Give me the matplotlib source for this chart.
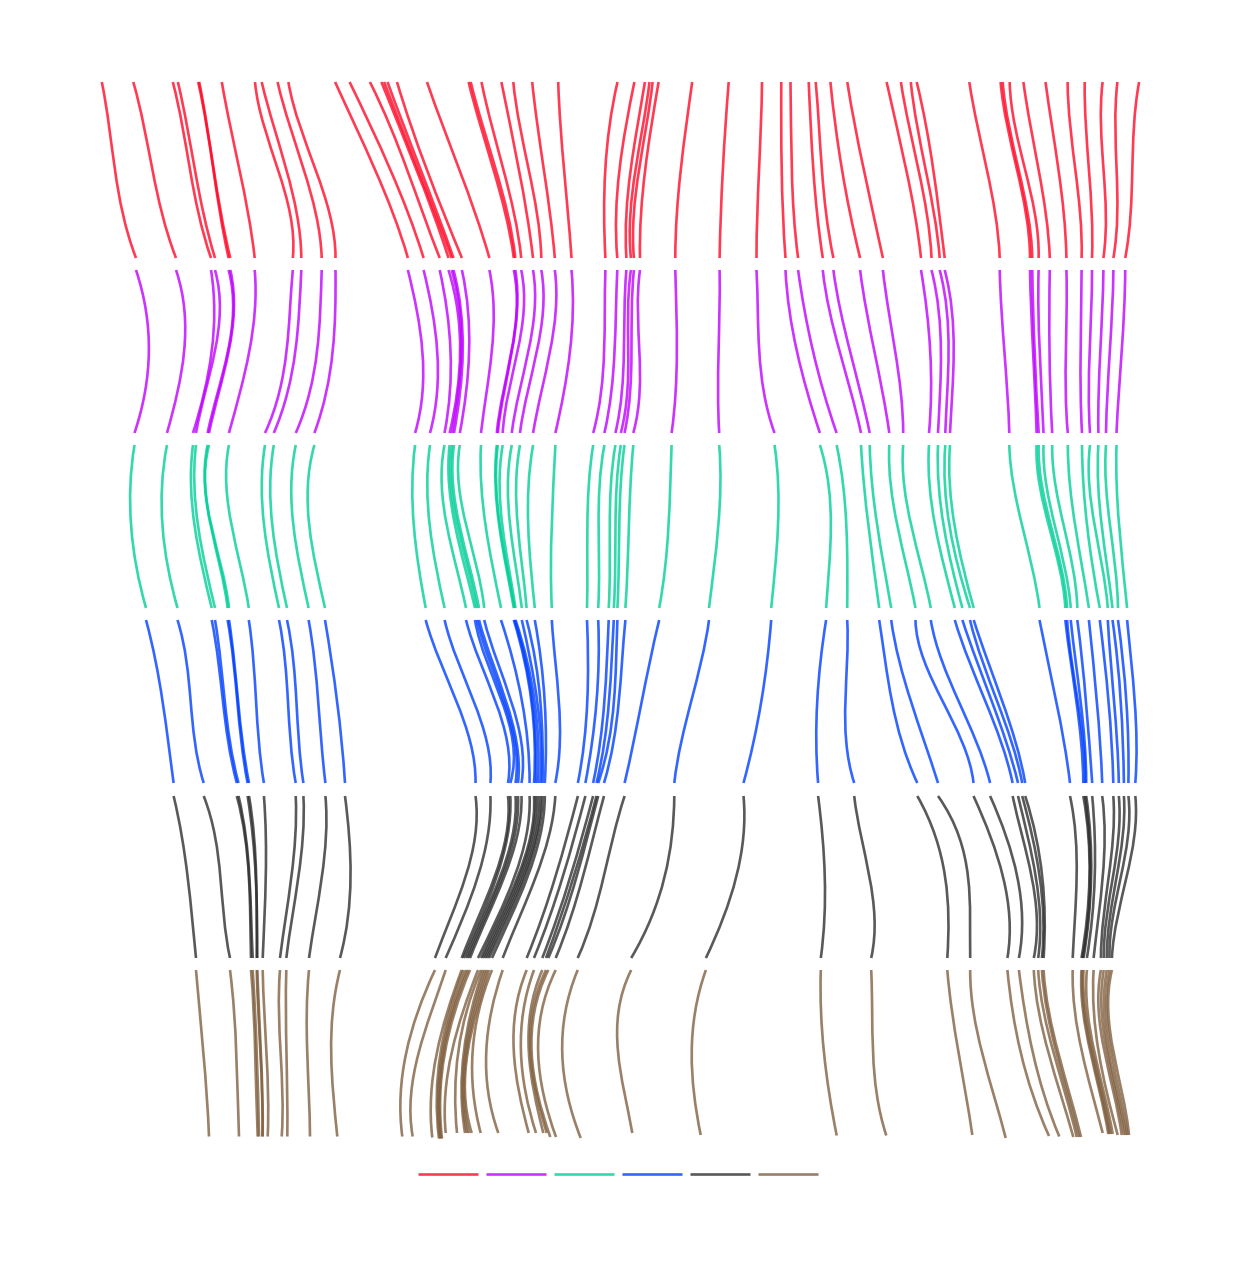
import matplotlib
matplotlib.use("Agg")
import matplotlib.pyplot as plt
from matplotlib.path import Path
from matplotlib.patches import PathPatch
from matplotlib.lines import Line2D

# x position of each of the 56 strands where it crosses a level
level_0 = [101.8,133.3,172.8,177.9,198.2,199.2,221.8,255,261.7,277.6,288.4,335.1,349.6,369.9,381.4,384.1,387.5,397,427,468.6,470.7,481.5,501.4,513.3,532.2,558.2,617.5,634.4,644.9,649.5,652.6,658.6,692.2,728.7,762,781.3,790.5,808.7,815.7,830.4,847.3,886.6,900.9,910.8,916.7,969.3,1000.6,1002.7,1009.7,1023.4,1045.5,1067.6,1084.7,1102.6,1117.4,1139.1]
level_1 = [136,176,211,215,228.6,230.3,254.7,292.8,301.3,321.7,335.5,407.9,423.6,439.7,448.5,451.7,453.5,461.9,489.4,513.8,515.3,521.2,533,541.3,554.8,571.5,605.4,617.3,626.4,630.9,633.9,640,675.3,719.6,756.5,785.5,798.1,822.8,833.4,860.1,882.9,921,931.5,939.7,944.7,999.7,1030,1032.3,1038.6,1049.8,1066.4,1081.6,1092,1103.4,1113.4,1125.2]
level_2 = [134.5,167,193,196,207.6,209,228.9,265,273.8,295.8,314.4,415.1,430,444.5,449.6,452,454,459.8,481,496.8,497.8,502.7,511.8,520,533.1,555.4,593.2,604.4,615.4,620.8,624.5,633.3,671.6,719.2,774.5,819.9,836.6,861,869.7,889.3,903.2,929,938,945.3,950,1009.3,1036.6,1038.7,1043.5,1052.2,1067.8,1082,1090,1098.4,1106,1116.5]
level_3 = [146,177.5,211.7,215,227.6,229,248.8,279,287,308.6,325,425.7,444.6,466,475,477,479,484.2,501,513.8,514.6,515.5,521.8,526.6,534.8,551.8,587,598.2,608.7,613.8,617.4,625.4,659.2,709,771.2,826.1,847.2,879.2,891.2,915.5,930.8,954.8,962.4,970,973.7,1039.5,1065.3,1067.1,1070.7,1077.3,1088.9,1099.8,1107.8,1112.5,1118,1127.1]
level_4 = [173.6,203.7,236.8,238.5,247.6,249,263.9,295.7,303.4,325.4,345,475.5,490.4,508,510.3,515.5,518,521.5,529.6,534,535.7,538,540.4,542.5,544.8,555.3,577.9,585.4,593.1,596.5,598.2,604,624.6,674.3,743.5,818.1,854.2,917.3,938,973.5,990.1,1012.6,1018,1022.2,1025.2,1070,1083.3,1085,1086.2,1092.2,1102.2,1113.3,1118.8,1123.9,1128.4,1135.3]
level_5 = [196,230,251,252.7,256.7,257.3,262.7,280,286.3,309,340,435,445.7,461.7,463.5,466,468,470,478,481,483,485,487,489,492,502.7,526.7,534,542.3,546,548.3,555.7,577.7,631.2,705.9,820.8,871.2,947.3,970.2,1007.4,1018.9,1033.8,1038.2,1041.9,1043.6,1072.7,1081.5,1082.5,1083.5,1086.9,1093.6,1100.9,1103.8,1106.8,1109.5,1111.9]
level_6 = [209,239,257.7,259,262.3,262.7,267.7,281.7,287.3,310,337.3,402.3,412.7,432.3,439,440,441,442,445.7,457,465,467,469,471.7,480.7,498.3,528.7,536,543.3,546.7,550.3,556,580.7,632.3,700.7,836.7,886.3,972.3,1005.7,1049,1059.3,1073.3,1076.7,1079,1081,1102.7,1108.3,1109.5,1110.7,1112.7,1117.7,1121.7,1124,1126,1127.5,1129]
level_6_y = [1136.5]*13 + [1137.5] + [1138.5]*4 + [1133]*12 + [1137]*2 + [1138,1133,1135,1135.5,1135.5,1135,1138,1136,1136.5] + [1137]*4 + [1133] + [1134]*4 + [1135]*6

# x at one third and two thirds down each band
band_0_a = [111,146.8,185,189.7,209,209.3,233.3,268.5,278,294.5,305,362.1,377.4,396,405,406.8,409.5,416.2,448.4,484.9,487.2,495.7,513.3,522.7,539.6,561.6,607.7,623.5,635,640.3,643.8,649.1,684.2,724.5,760.3,781.3,791.2,811.5,819.9,837.5,857.8,899.9,912.2,919.9,928.7,980.6,1010.4,1012.1,1018.1,1033.2,1054.2,1071.8,1086.8,1101.6,1115.6,1133.2]
band_0_b = [119.8,158.6,195.5,200.5,217.8,218.5,245.5,286.8,293.9,312.4,325.6,387.5,402.7,417.9,428,429.7,432,438.2,470.3,501.8,504.1,510.9,524.4,534.6,548.1,566.7,604.2,616.8,627.4,631.6,635.1,642.1,677.9,721.4,757.8,782.4,792.9,815.7,824.5,847.3,870.1,912.2,924.4,931.5,937.4,992.8,1023.4,1025.1,1032.1,1043.7,1062.3,1078.8,1091,1105.4,1117.4,1131.4]
band_1_a = [147.7,185.2,214,219,232.2,232.9,253.5,289,298.2,319.5,334.7,419.2,434.4,448.6,459.1,460.8,462.1,468.9,493.6,515.5,515.9,522.3,533.1,541.6,554.4,572.3,604.7,615.6,624.3,628,631.6,638.2,676.7,719.2,758.1,791.6,807.2,832.6,843.5,869,890.8,928.2,939.9,947.9,953,1002.4,1031.8,1033.6,1038.7,1049.3,1066.4,1080.9,1090.7,1101.6,1111.4,1123.4]
band_1_b = [147,180.2,207.2,208.6,221.4,222.4,243.4,282.3,290.7,312.7,328.9,423.2,437.8,450.6,458.7,459.7,461.4,467.5,488.5,506,506.7,511.5,522.3,530.7,544.3,566.2,602.5,612.7,622.9,628,630.9,640,676.3,718.1,761.8,803.6,819.9,847.2,857,879.9,899.2,931.1,940.6,947.9,953,1006.4,1034.4,1035.8,1040.9,1050,1065.6,1080.5,1088.9,1099.1,1108.2,1119.8]
band_2_a = [130.1,161.6,191.7,195.1,206.2,206.5,227.5,262,270.4,291.4,307.6,412.4,427.6,442.8,450.6,452.7,454.7,460.8,482.4,496.3,497,500,508.1,516.2,528,552.7,588,598.9,610.2,616,620,629.8,669.8,720,778.5,830,844.6,865.4,873.7,892.6,906.1,931,940,946,951,1016.2,1042.4,1044.6,1048.9,1058,1071.5,1084.5,1090.7,1099.1,1107.1,1117.3]
band_2_b = [134.2,165.6,199.4,202.8,217,218,237.6,268.1,276.2,297.5,313.4,416.8,433.7,453,461.4,464.1,466.2,473.3,490.2,503.7,504.4,506.4,513.8,520.6,529.7,551,587.3,598.9,609.8,615.3,618.9,628,666.5,715.6,776.3,830,847.2,871.9,881.7,903.5,918,941,949,955,960,1028.9,1056.1,1058,1061.6,1070,1079.8,1090.7,1099.8,1105.3,1113.6,1121.6]
band_3_a = [158.1,188.1,219.9,222,234.8,235.5,254.4,286.2,294.6,315.9,333.5,445.4,463,485,491.7,494.4,496.8,501.9,516.4,527.2,528.2,530,533,537.4,542.5,556.6,588,598.2,606.2,610.9,615.6,621.1,647.2,698.1,765.4,819.2,846.5,887.2,902.8,929.7,947.1,974.4,981.7,987.1,992.6,1050.7,1072.6,1073.6,1077.3,1083.5,1094.4,1106,1111.8,1118.7,1124.2,1132.5]
band_3_b = [166.5,193.2,226.3,228,239.9,240.9,257.8,289.6,298,320.3,340.3,466.4,483.3,504.2,510.3,512,513.8,518.8,526.2,534,535,537.4,540.1,542.1,545.8,560,585.5,593.8,601.8,606.2,610.9,615.6,636.3,684.3,756.3,816.3,845.4,898.1,919.9,956.2,970.8,996.2,1001.7,1007.1,1011.5,1061.6,1079.8,1081.6,1083.5,1088.2,1099.1,1110.7,1116.2,1122.3,1127.8,1136.2]
band_4_a = [184,217.3,246.7,247.3,254,255,266,294.3,301.7,325,350,472.7,485,503,504.5,509,511,513.5,523,527,528.5,530.5,532.5,534,536.5,545,563.3,570.7,578.3,581.7,584,590,610,670,741.7,823.5,864,939.5,963.1,995.2,1010.5,1025.7,1030.7,1035.1,1038.5,1076.4,1089.2,1089.9,1091,1095,1104.4,1111.9,1117,1121,1126,1132.2]
band_4_b = [190.7,222.7,250,250.7,256.7,256.7,265,287.7,294.3,317.7,349.3,456,468.3,484,486.5,489,491,493,503.5,506,508,510,512,514,516.5,525,546.7,554,561.7,565,568.3,575,596.7,656.5,728.2,824.9,873.5,947.9,969.9,1008.1,1021.3,1035.8,1039.2,1042.6,1044.3,1075.7,1088.2,1089.2,1089.9,1093.3,1100,1105.1,1108.5,1111.9,1115.2,1120.3]
band_5_a = [201,235,254.3,255.7,259,259.7,265,279.3,286,306.7,331.7,413.3,426.7,443.3,445.7,447.7,449,450.7,459,463.3,468.3,470,471.7,473.3,476,489,514,521.7,529,530.7,532.3,539.3,563.3,617.3,693.3,821.7,872.3,954,976,1015,1027.3,1041.7,1046.7,1050,1051.7,1076.7,1085,1086,1087.3,1089.3,1095,1100,1102.7,1105,1107.3,1109.3]
band_5_b = [205.7,237.3,256,257.7,261.7,262,267.7,282,287,308.3,332.3,401.7,412.7,432.3,437.3,438.7,440,441,447,455.7,461.7,462.7,464,465,472.3,486.7,516.7,523.3,531.7,533.3,535,541,565,621.7,692.7,827.3,875,963.3,990,1028.3,1040,1056.7,1061.7,1064,1066,1088.3,1096.7,1097.7,1099,1100.7,1104,1110.7,1112.7,1114.3,1116.7,1119.3]

levels = [level_0, level_1, level_2, level_3, level_4, level_5, level_6]
inner_a = [band_0_a, band_1_a, band_2_a, band_3_a, band_4_a, band_5_a]
inner_b = [band_0_b, band_1_b, band_2_b, band_3_b, band_4_b, band_5_b]
band_top = [82, 270, 445, 620, 796, 970]
band_bottom = [258, 433, 608, 783, 958, 1135]
colors = ["#ff0a28", "#bf00ff", "#00cf98", "#0040ff", "#303030", "#806040"]

fig = plt.figure(figsize=(12.36, 12.76), dpi=100)
ax = fig.add_axes([0, 0, 1, 1])
ax.set_xlim(0, 1236)
ax.set_ylim(1276, 0)
ax.axis("off")


def strand(x0, xa, xb, x1, y0, y1):
    # cubic through the four read positions, as a bezier
    c1x = (-5*x0 + 18*xa - 9*xb + 2*x1) / 6
    c2x = (2*x0 - 9*xa + 18*xb - 5*x1) / 6
    c1y = y0 + (y1 - y0) / 3
    c2y = y0 + (y1 - y0) * 2 / 3
    return Path([(x0, y0), (c1x, c1y), (c2x, c2y), (x1, y1)],
                [Path.MOVETO, Path.CURVE4, Path.CURVE4, Path.CURVE4])


for b in range(6):
    for i in range(len(level_0)):
        y1 = level_6_y[i] if b == 5 else band_bottom[b]
        p = strand(levels[b][i], inner_a[b][i], inner_b[b][i], levels[b+1][i], band_top[b], y1)
        ax.add_patch(PathPatch(p, fill=False, edgecolor=colors[b], alpha=0.8,
                               lw=1.9, capstyle="butt"))

handles = [Line2D([], [], color=c, alpha=0.8, lw=1.9, solid_capstyle="butt") for c in colors]
leg = ax.legend(handles, [""]*6, ncol=6, frameon=False, loc="center",
                bbox_to_anchor=(617.5, 1175), bbox_transform=ax.transData,
                handlelength=4.32, handletextpad=0, columnspacing=0.576,
                borderpad=0, borderaxespad=0, fontsize=10)

fig.savefig("out.png", dpi=100, facecolor="white")
